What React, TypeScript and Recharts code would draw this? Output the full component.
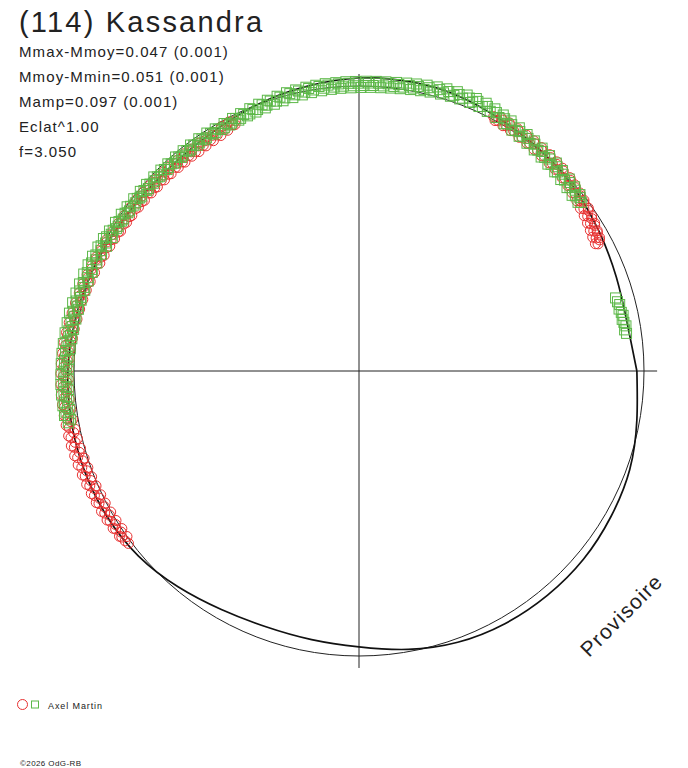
import React from 'react';
import { ComposedChart, Line, Scatter, XAxis, YAxis, ReferenceLine } from 'recharts';

// ---- data (angle in degrees, counter-clockwise from +x; radius relative to mean circle) ----
const title = '(114) Kassandra';
const infoLines = ['Mmax-Mmoy=0.047 (0.001)', 'Mmoy-Mmin=0.051 (0.001)', 'Mamp=0.097 (0.001)', 'Eclat^1.00', 'f=3.050'];
const observer = 'Axel Martin';
const copyright = '©2026 OdG-RB';
const stamp = 'Provisoire';

const fitCurve: [number, number][] = [
  [0, 0.975], [10, 0.956], [20, 0.961], [30, 0.974], [40, 0.990], [50, 1.002], [60, 1.012], [70, 1.026],
  [80, 1.031], [90, 1.028], [100, 1.016], [110, 1.002], [120, 0.985], [130, 0.976], [140, 0.977], [150, 0.986],
  [160, 1.000], [170, 1.012], [180, 1.021], [190, 1.025], [200, 1.025], [210, 1.021], [220, 1.010], [230, 0.988],
  [240, 0.966], [250, 0.955], [260, 0.957], [270, 0.968], [280, 0.992], [290, 1.013], [300, 1.024], [310, 1.028],
  [320, 1.028], [330, 1.021], [340, 1.011], [350, 0.990], [360, 0.975],
];

const redPoints: [number, number][] = [
  // right arc
  [28.0, 0.950], [28.6, 0.961], [29.3, 0.954], [30.1, 0.967], [30.8, 0.959], [31.7, 0.972], [32.5, 0.963], [33.2, 0.976],
  [34.1, 0.969], [35.0, 0.982], [35.8, 0.973], [36.9, 0.986], [37.6, 0.978], [38.4, 0.990], [39.5, 0.982], [40.3, 0.995],
  [41.2, 0.986], [42.0, 0.999], [43.1, 0.990], [44.4, 1.003], [45.3, 0.993], [46.2, 1.004], [47.0, 0.995], [48.1, 1.006],
  [49.2, 0.996], [50.4, 1.005], [51.1, 0.997], [52.3, 1.008], [53.2, 0.999], [54.0, 1.009], [55.1, 1.000], [56.3, 1.011],
  [57.2, 1.002], [58.4, 1.012], [59.1, 1.004], [60.2, 1.014], [61.0, 1.005], [62.1, 1.010],
  [28.3, 0.942], [29.0, 0.965], [29.8, 0.945], [30.5, 0.970], [31.3, 0.950], [32.1, 0.976], [32.9, 0.955], [33.7, 0.981],
  [34.6, 0.960], [35.4, 0.987], [36.3, 0.964], [37.2, 0.991], [38.0, 0.970], [38.9, 0.995], [39.9, 0.975], [40.8, 1.000],
  [41.6, 0.980], [42.5, 1.004], [43.6, 0.984], [44.9, 1.008], [45.8, 0.987], [46.6, 1.010], [47.6, 0.989], [48.6, 1.012],
  [49.7, 0.990], [50.8, 1.012], [51.7, 0.991], [52.8, 1.014], [53.6, 0.993], [54.6, 1.015], [55.6, 0.994], [56.8, 1.016],
  [57.8, 0.997], [58.8, 1.018], [59.6, 0.998], [60.7, 1.019], [61.5, 1.000],
  // left arc
  [116.3, 0.979], [117.1, 0.971], [118.2, 0.982], [119.0, 0.969], [119.8, 0.977], [121.0, 0.966], [121.9, 0.974], [122.7, 0.964],
  [123.8, 0.972], [124.6, 0.962], [125.5, 0.970], [126.7, 0.960], [127.4, 0.968], [128.3, 0.963], [129.4, 0.972], [130.2, 0.960],
  [131.1, 0.969], [132.0, 0.962], [133.2, 0.973], [134.1, 0.961], [134.9, 0.970], [136.0, 0.964], [137.2, 0.975], [138.1, 0.963],
  [139.0, 0.972], [139.8, 0.967], [141.1, 0.978], [142.0, 0.966], [142.8, 0.974], [144.0, 0.969], [145.2, 0.980], [146.1, 0.970],
  [146.9, 0.978], [148.0, 0.973], [149.1, 0.984], [150.0, 0.975], [151.2, 0.991], [152.1, 0.984], [152.9, 0.994], [154.0, 0.986],
  [155.1, 0.998], [156.2, 0.990], [157.0, 1.002], [157.9, 0.993], [159.1, 1.004], [160.0, 0.997], [161.2, 1.008], [162.0, 1.000],
  [163.1, 1.011], [164.0, 1.003], [164.9, 1.014], [166.1, 1.006], [167.0, 1.018], [168.2, 1.010], [169.1, 1.022], [170.0, 1.012],
  [171.2, 1.026], [172.1, 1.016], [173.0, 1.030], [174.1, 1.018], [175.0, 1.033], [176.2, 1.022], [177.1, 1.035], [178.0, 1.024],
  [179.2, 1.036], [180.1, 1.026], [181.0, 1.038], [182.2, 1.027], [183.1, 1.040], [184.0, 1.029], [185.2, 1.038], [186.1, 1.030],
  [187.0, 1.041], [188.1, 1.028], [189.2, 1.038], [190.0, 1.026], [191.1, 1.036], [192.2, 1.024], [193.0, 1.037], [194.1, 1.027],
  [195.0, 1.034], [196.2, 1.022], [197.1, 1.033], [198.0, 1.020], [199.2, 1.030], [200.1, 1.018], [201.0, 1.029], [202.2, 1.017],
  [203.1, 1.027], [204.0, 1.015], [205.2, 1.026], [206.1, 1.014], [207.0, 1.024], [208.1, 1.012], [209.2, 1.022], [210.0, 1.011],
  [211.1, 1.020], [212.2, 1.010], [213.0, 1.018], [214.1, 1.008], [215.0, 1.016], [216.0, 1.014], [216.8, 1.010],
  [116.7, 0.968], [117.6, 0.986], [118.6, 0.962], [119.4, 0.984], [120.4, 0.958], [121.4, 0.981], [122.3, 0.956], [123.3, 0.979],
  [124.2, 0.955], [125.1, 0.977], [126.1, 0.953], [127.0, 0.975], [127.9, 0.955], [128.8, 0.978], [129.8, 0.954], [130.7, 0.976],
  [131.6, 0.955], [132.6, 0.978], [133.6, 0.956], [134.5, 0.979], [135.5, 0.957], [136.6, 0.980], [137.6, 0.958], [138.5, 0.981],
  [139.4, 0.960], [140.4, 0.983], [141.5, 0.962], [142.4, 0.985], [143.4, 0.964], [144.6, 0.987], [145.6, 0.966], [146.5, 0.988],
  [147.4, 0.968], [148.5, 0.990], [149.6, 0.970], [150.5, 0.993], [151.6, 0.975], [152.5, 0.998], [153.4, 0.978], [154.5, 1.001],
  [155.6, 0.982], [156.6, 1.005], [157.4, 0.985], [158.5, 1.008], [159.6, 0.990], [160.5, 1.012], [161.6, 0.994], [162.5, 1.016],
  [163.5, 0.998], [164.4, 1.019], [165.5, 1.001], [166.5, 1.023], [167.5, 1.004], [168.6, 1.027], [169.6, 1.006], [170.5, 1.031],
  [171.6, 1.010], [172.5, 1.035], [173.5, 1.012], [174.5, 1.040], [175.6, 1.015], [176.6, 1.042], [177.5, 1.017], [178.6, 1.045],
  [179.6, 1.019], [180.5, 1.046], [181.6, 1.020], [182.6, 1.047], [183.5, 1.020], [184.6, 1.048], [185.6, 1.021], [186.5, 1.047],
  [187.6, 1.020], [188.6, 1.046], [189.6, 1.019], [190.5, 1.045], [191.6, 1.017], [192.6, 1.044], [193.5, 1.016], [194.6, 1.043],
  [195.5, 1.014], [196.6, 1.041], [197.6, 1.012], [198.5, 1.039], [199.6, 1.010], [200.6, 1.037], [201.6, 1.009], [202.6, 1.035],
  [203.6, 1.007], [204.6, 1.033], [205.6, 1.005], [206.6, 1.031], [207.5, 1.004], [208.6, 1.029], [209.6, 1.002], [210.6, 1.027],
  [211.6, 1.001], [212.6, 1.024], [213.6, 0.999], [214.6, 1.021], [215.5, 1.000],
];

const greenPoints: [number, number][] = [
  // right cluster
  [8.0, 0.948], [8.8, 0.943], [9.6, 0.950], [10.4, 0.945], [11.1, 0.941], [11.9, 0.947], [12.6, 0.943], [13.4, 0.938],
  [14.3, 0.944], [15.0, 0.939], [15.9, 0.936],
  // main arc
  [37.2, 0.979], [38.1, 0.986], [39.0, 0.977], [39.9, 0.989], [41.0, 0.981], [41.8, 0.992], [42.9, 0.984], [44.0, 0.994],
  [45.1, 0.986], [45.9, 0.998], [47.1, 0.990], [48.0, 1.001], [49.0, 0.993], [50.1, 1.004], [51.0, 0.997], [52.2, 1.007],
  [53.1, 0.999], [54.0, 1.009], [55.2, 1.003], [56.1, 1.012], [57.0, 1.006], [58.2, 1.017], [59.1, 1.011], [60.0, 1.022],
  [61.1, 1.016], [62.0, 1.027], [63.2, 1.021], [64.1, 1.032], [65.0, 1.024], [66.2, 1.034], [67.1, 1.025], [68.0, 1.033],
  [69.2, 1.024], [70.1, 1.032], [71.0, 1.023], [72.2, 1.030], [73.1, 1.020], [74.0, 1.027], [75.2, 1.017], [76.1, 1.024],
  [77.0, 1.014], [78.2, 1.020], [79.1, 1.011], [80.0, 1.017], [81.2, 1.008], [82.1, 1.015], [83.0, 1.006], [84.2, 1.013],
  [85.1, 1.004], [86.0, 1.012], [87.2, 1.003], [88.1, 1.011], [89.0, 1.002], [90.2, 1.010], [91.1, 1.001], [92.0, 1.010],
  [93.2, 1.001], [94.1, 1.010], [95.0, 1.000], [96.2, 1.009], [97.1, 1.000], [98.0, 1.008], [99.2, 0.999], [100.1, 1.007],
  [101.0, 0.997], [102.2, 1.005], [103.1, 0.995], [104.0, 1.003], [105.2, 0.993], [106.1, 1.000], [107.0, 0.990], [108.2, 0.997],
  [109.1, 0.987], [110.0, 0.994], [111.2, 0.984], [112.1, 0.990], [113.0, 0.980], [114.2, 0.987], [115.1, 0.979], [116.0, 0.986],
  [117.2, 0.978], [118.1, 0.983], [119.0, 0.976], [120.2, 0.982], [121.1, 0.977], [122.0, 0.983], [123.2, 0.978], [124.1, 0.983],
  [125.0, 0.977], [126.2, 0.982], [127.1, 0.976], [128.0, 0.981], [129.2, 0.977], [130.1, 0.982], [131.0, 0.976], [132.2, 0.981],
  [133.1, 0.978], [134.0, 0.983], [135.2, 0.977], [136.1, 0.982], [137.0, 0.979], [138.2, 0.984], [139.1, 0.978], [140.0, 0.985],
  [141.2, 0.979], [142.1, 0.986], [143.0, 0.981], [144.2, 0.988], [145.1, 0.982], [146.0, 0.990], [147.2, 0.984], [148.1, 0.992],
  [149.0, 0.986], [150.2, 0.994], [151.1, 0.993], [152.0, 1.003], [153.2, 0.996], [154.1, 1.006], [155.0, 0.999], [156.2, 1.009],
  [157.1, 1.002], [158.0, 1.012], [159.2, 1.004], [160.1, 1.014], [161.0, 1.006], [162.2, 1.016], [163.1, 1.009], [164.0, 1.019],
  [165.2, 1.011], [166.1, 1.022], [167.0, 1.013], [168.2, 1.024], [169.1, 1.016], [170.0, 1.026], [171.2, 1.018], [172.1, 1.028],
  [173.0, 1.020], [174.2, 1.030], [175.1, 1.022], [176.0, 1.032], [177.2, 1.025], [178.1, 1.034], [179.0, 1.027], [180.2, 1.035],
  [181.1, 1.028], [182.0, 1.037], [183.2, 1.029], [184.1, 1.038], [185.0, 1.030], [186.2, 1.039], [187.1, 1.031], [188.0, 1.038],
  [189.2, 1.032], [190.1, 1.036],
  [37.6, 0.970], [38.6, 0.992], [39.5, 0.969], [40.5, 0.995], [41.4, 0.973], [42.4, 0.999], [43.5, 0.976], [44.6, 1.002],
  [45.5, 0.980], [46.5, 1.006], [47.6, 0.983], [48.5, 1.009], [49.6, 0.986], [50.6, 1.012], [51.6, 0.990], [52.7, 1.015],
  [53.6, 0.993], [54.6, 1.018], [55.7, 0.997], [56.6, 1.022], [57.6, 1.001], [58.7, 1.027], [59.6, 1.006], [60.6, 1.031],
  [61.6, 1.011], [62.6, 1.036], [63.7, 1.016], [64.6, 1.040], [65.6, 1.019], [66.7, 1.041], [67.6, 1.019], [68.6, 1.040],
  [69.7, 1.018], [70.6, 1.039], [71.6, 1.016], [72.7, 1.037], [73.6, 1.013], [74.6, 1.034], [75.7, 1.010], [76.6, 1.031],
  [77.6, 1.007], [78.7, 1.027], [79.6, 1.004], [80.6, 1.024], [81.7, 1.001], [82.6, 1.021], [83.6, 0.999], [84.7, 1.019],
  [85.6, 0.997], [86.6, 1.018], [87.7, 0.996], [88.6, 1.017], [89.6, 0.995], [90.7, 1.016], [91.6, 0.994], [92.6, 1.016],
  [93.7, 0.994], [94.6, 1.015], [95.6, 0.993], [96.7, 1.015], [97.6, 0.992], [98.6, 1.014], [99.7, 0.991], [100.6, 1.013],
  [101.6, 0.989], [102.7, 1.011], [103.6, 0.987], [104.6, 1.009], [105.7, 0.985], [106.6, 1.006], [107.6, 0.982], [108.7, 1.003],
  [109.6, 0.980], [110.6, 1.000], [111.7, 0.978], [112.6, 0.997], [113.6, 0.977], [114.7, 0.994], [115.6, 0.976], [116.6, 0.991],
  [117.7, 0.975], [118.6, 0.989], [119.6, 0.974], [120.7, 0.988], [121.6, 0.976], [122.6, 0.991], [123.7, 0.975], [124.6, 0.990],
  [125.6, 0.974], [126.7, 0.989], [127.6, 0.974], [128.6, 0.989], [129.7, 0.974], [130.6, 0.989], [131.6, 0.975], [132.7, 0.989],
  [133.6, 0.976], [134.6, 0.990], [135.7, 0.976], [136.6, 0.991], [137.6, 0.977], [138.7, 0.992], [139.6, 0.978], [140.6, 0.993],
  [141.7, 0.980], [142.6, 0.995], [143.6, 0.981], [144.7, 0.997], [145.6, 0.983], [146.6, 0.999], [147.7, 0.985], [148.6, 1.001],
  [149.6, 0.987], [150.7, 1.004], [151.6, 0.984], [152.6, 1.010], [153.7, 0.988], [154.6, 1.014], [155.6, 0.992], [156.7, 1.018],
  [157.6, 0.995], [158.6, 1.021], [159.7, 0.998], [160.6, 1.024], [161.6, 1.001], [162.7, 1.027], [163.6, 1.003], [164.6, 1.030],
  [165.7, 1.006], [166.6, 1.033], [167.6, 1.008], [168.7, 1.036], [169.6, 1.010], [170.6, 1.038], [171.7, 1.012], [172.6, 1.040],
  [173.6, 1.014], [174.7, 1.042], [175.6, 1.016], [176.6, 1.044], [177.7, 1.018], [178.6, 1.045], [179.6, 1.020], [180.7, 1.046],
  [181.6, 1.021], [182.6, 1.047], [183.7, 1.022], [184.6, 1.047], [185.6, 1.023], [186.7, 1.046], [187.6, 1.024], [188.6, 1.045],
  [189.6, 1.026],
];

// ---- layout ----
const W = 688;
const H = 768;
const CX = 359;
const CY = 371;
const R = 285;
const X_DOMAIN: [number, number] = [-CX / R, (W - CX) / R];
const Y_DOMAIN: [number, number] = [-(H - CY) / R, CY / R];
const H_AXIS: [number, number] = [-1.0035, 1.046];
const V_AXIS: [number, number] = [-1.042, 1.042];

const FONT = '"Liberation Sans", Arial, sans-serif';
const RED = '#e83030';
const GREEN = '#5cb848';
const INK = '#222222';

const toXY = ([a, r]: [number, number]) => ({
  x: r * Math.cos((a * Math.PI) / 180),
  y: r * Math.sin((a * Math.PI) / 180),
});

const fitData = fitCurve.map(toXY);
const redData = redPoints.map(toXY);
const greenData = greenPoints.map(toXY);
// unit reference circle (geometry, not data)
const circleData = Array.from({ length: 121 }, (_, i) => toXY([i * 3, 1]));

const RedCircle = (p: any) => <circle cx={p.cx} cy={p.cy} r={5} fill="none" stroke={RED} strokeWidth={1} />;
const GreenSquare = (p: any) => (
  <rect x={p.cx - 5} y={p.cy - 5} width={10} height={10} fill="none" stroke={GREEN} strokeWidth={1} />
);

export default function App() {
  return (
    <div style={{ position: 'absolute', left: 0, top: 0, width: W, height: H, background: '#fff' }}>
      <ComposedChart width={W} height={H} margin={{ top: 0, right: 0, bottom: 0, left: 0 }}>
        <XAxis type="number" dataKey="x" domain={X_DOMAIN} hide allowDataOverflow />
        <YAxis type="number" dataKey="y" domain={Y_DOMAIN} hide allowDataOverflow />
        <ReferenceLine segment={[{ x: H_AXIS[0], y: 0 }, { x: H_AXIS[1], y: 0 }]} stroke={INK} strokeWidth={1} ifOverflow="visible" />
        <ReferenceLine segment={[{ x: 0, y: V_AXIS[0] }, { x: 0, y: V_AXIS[1] }]} stroke={INK} strokeWidth={1} ifOverflow="visible" />
        <Line data={circleData} dataKey="y" type="linear" stroke={INK} strokeWidth={1} dot={false} isAnimationActive={false} />
        <Line data={fitData} dataKey="y" type="natural" stroke="#111" strokeWidth={1.7} dot={false} isAnimationActive={false} />
        <Scatter data={redData} dataKey="y" shape={RedCircle} isAnimationActive={false} />
        <Scatter data={greenData} dataKey="y" shape={GreenSquare} isAnimationActive={false} />
      </ComposedChart>
      <svg width={W} height={H} style={{ position: 'absolute', left: 0, top: 0, pointerEvents: 'none' }}>
        <text x={19} y={32} fontFamily={FONT} fontSize={29} letterSpacing={2.2} fill={INK}>{title}</text>
        {infoLines.map((t, i) => (
          <text key={t} x={19} y={57 + i * 25} fontFamily={FONT} fontSize={15} letterSpacing={1.1} fill={INK}>{t}</text>
        ))}
        <circle cx={22.5} cy={704.5} r={5} fill="none" stroke={RED} strokeWidth={1} />
        <rect x={31.5} y={701} width={7} height={7} fill="none" stroke={GREEN} strokeWidth={1} />
        <text x={48} y={708.5} fontFamily={FONT} fontSize={9} letterSpacing={0.9} fill={INK}>{observer}</text>
        <text x={20} y={766} fontFamily={FONT} fontSize={8} letterSpacing={0.4} fill={INK}>{copyright}</text>
        <text x={589} y={658} fontFamily={FONT} fontSize={21} letterSpacing={1.3} fill={INK} transform="rotate(-45 589 658)">{stamp}</text>
      </svg>
    </div>
  );
}
